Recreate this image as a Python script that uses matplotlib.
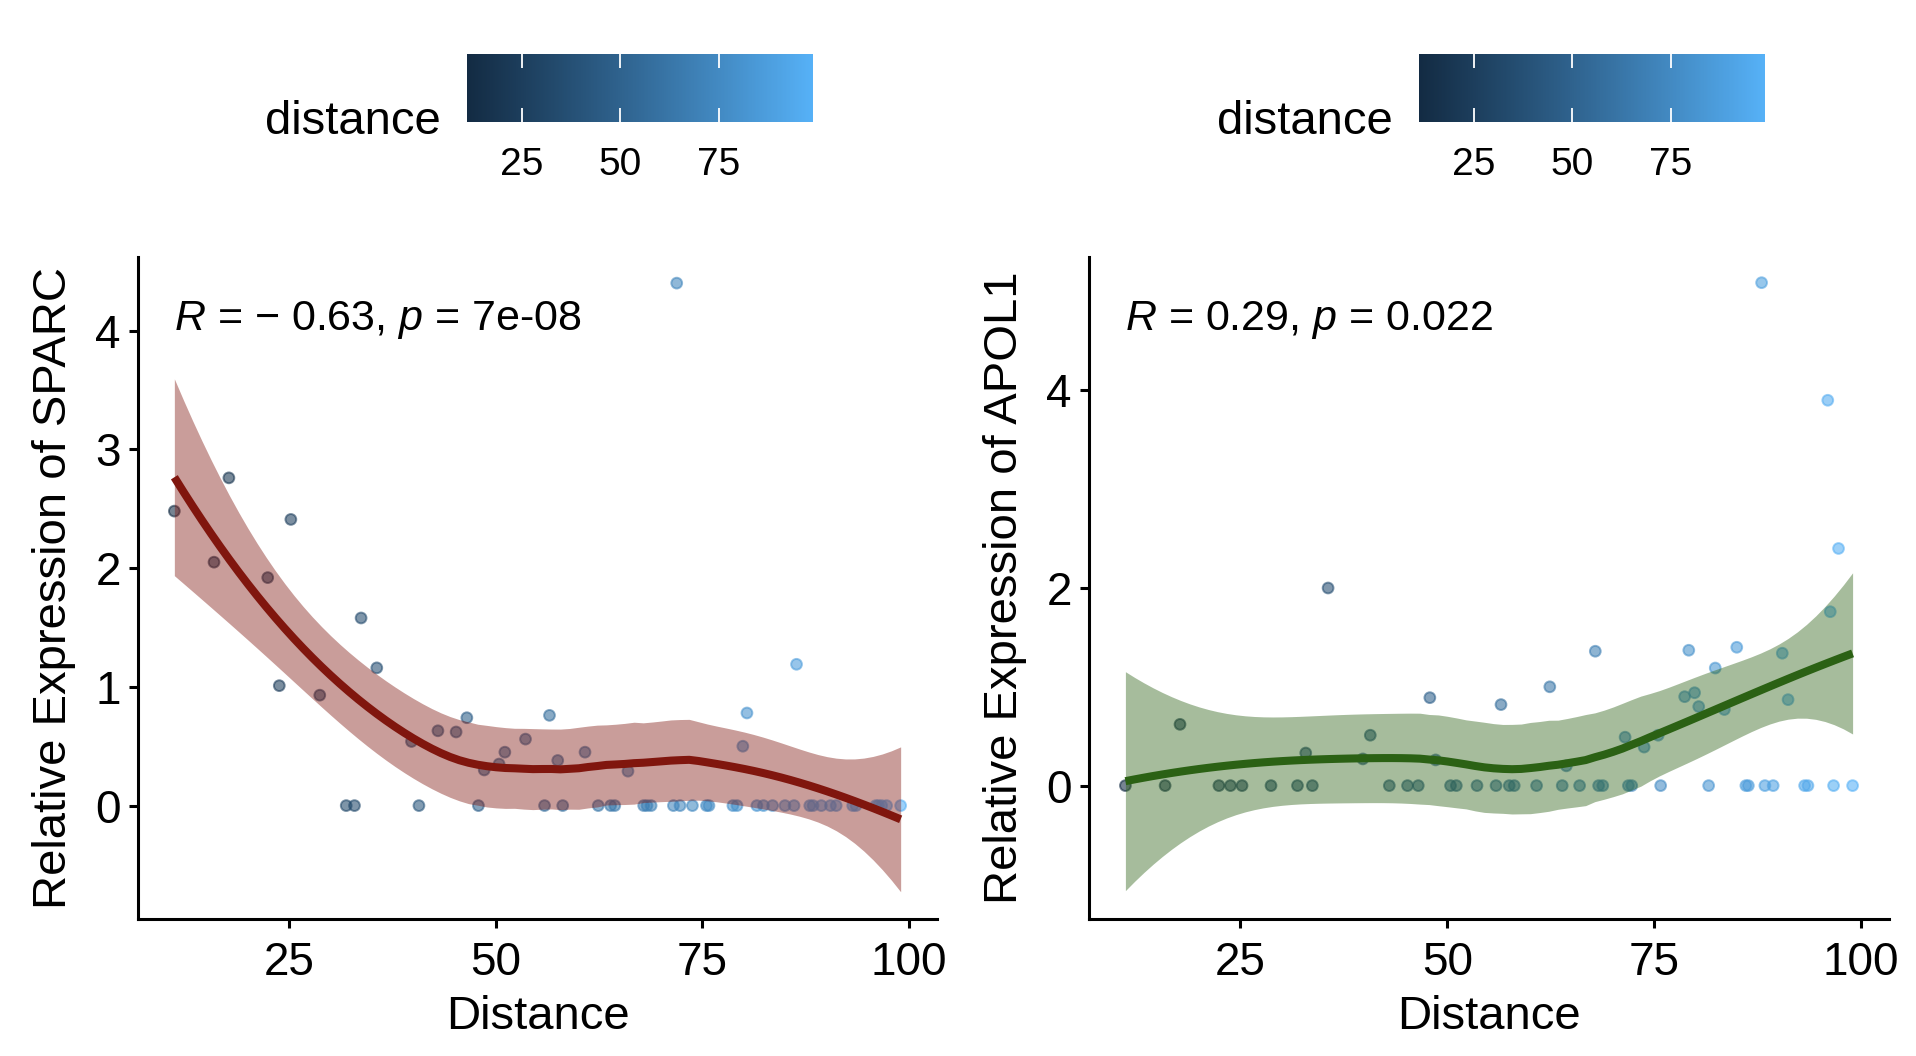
import numpy as np
import matplotlib
matplotlib.use("Agg")
import matplotlib.pyplot as plt
from matplotlib.colors import ListedColormap, Normalize
from matplotlib.cm import ScalarMappable
import matplotlib.transforms as mtransforms

plt.rcParams['font.family'] = ['Liberation Sans', 'DejaVu Sans']
plt.rcParams['mathtext.fontset'] = 'custom'
plt.rcParams['mathtext.rm'] = 'Liberation Sans'
plt.rcParams['mathtext.it'] = 'Liberation Sans:italic'

# ---------------- data ----------------
distance = [11.1, 15.9, 17.7, 22.4, 23.8, 25.2, 28.7, 31.9, 32.9, 33.7,
            35.6, 39.8, 40.7, 43.0, 45.2, 46.5, 47.9, 48.6, 50.4, 51.1,
            53.6, 55.9, 56.5, 57.5, 58.1, 60.8, 62.4, 63.9, 64.4, 66.0,
            67.9, 68.3, 68.8, 71.5, 71.9, 72.3, 73.8, 75.5, 75.8, 78.7,
            79.2, 79.9, 80.4, 81.6, 82.4, 83.5, 85.0, 86.1, 86.4, 88.0,
            88.4, 89.4, 90.5, 91.2, 93.2, 93.6, 96.0, 96.3, 96.7, 97.3,
            99.0]
sparc = [2.48, 2.05, 2.76, 1.92, 1.01, 2.41, 0.93, 0.00, 0.00, 1.58,
         1.16, 0.54, 0.00, 0.63, 0.62, 0.74, 0.00, 0.30, 0.35, 0.45,
         0.56, 0.00, 0.76, 0.38, 0.00, 0.45, 0.00, 0.00, 0.00, 0.29,
         0.00, 0.00, 0.00, 0.00, 4.40, 0.00, 0.00, 0.00, 0.00, 0.00,
         0.00, 0.50, 0.78, 0.00, 0.00, 0.00, 0.00, 0.00, 1.19, 0.00,
         0.00, 0.00, 0.00, 0.00, 0.00, 0.00, 0.00, 0.00, 0.00, 0.00,
         0.00]
apol1 = [0.00, 0.00, 0.62, 0.00, 0.00, 0.00, 0.00, 0.00, 0.33, 0.00,
         2.00, 0.27, 0.51, 0.00, 0.00, 0.00, 0.89, 0.26, 0.00, 0.00,
         0.00, 0.00, 0.82, 0.00, 0.00, 0.00, 1.00, 0.00, 0.20, 0.00,
         1.36, 0.00, 0.00, 0.49, 0.00, 0.00, 0.39, 0.51, 0.00, 0.90,
         1.37, 0.94, 0.80, 0.00, 1.19, 0.77, 1.40, 0.00, 0.00, 5.09,
         0.00, 0.00, 1.34, 0.87, 0.00, 0.00, 3.90, 1.76, 0.00, 2.40,
         0.00]
labels_cor = [r"$R$ = − 0.63, $p$ = 7e-08", r"$R$ = 0.29, $p$ = 0.022"]
ylabels = ["Relative Expression of SPARC", "Relative Expression of APOL1"]
xticks = [25, 50, 75, 100]
yticks_list = [[0, 1, 2, 3, 4], [0, 2, 4]]
legend_ticks = [25, 50, 75]

# ---------------- helpers ----------------
def srgb_to_lab(rgb):
    c = np.asarray(rgb, float) / 255.0
    c = np.where(c <= 0.04045, c / 12.92, ((c + 0.055) / 1.055) ** 2.4)
    M = np.array([[0.4124564, 0.3575761, 0.1804375],
                  [0.2126729, 0.7151522, 0.0721750],
                  [0.0193339, 0.1191920, 0.9503041]])
    xyz = M @ c
    wp = np.array([0.95047, 1.0, 1.08883])
    t = xyz / wp
    f = np.where(t > (6 / 29) ** 3, np.cbrt(t), t / (3 * (6 / 29) ** 2) + 4 / 29)
    return np.array([116 * f[1] - 16, 500 * (f[0] - f[1]), 200 * (f[1] - f[2])])

def lab_to_srgb(lab):
    L, a, b = lab
    fy_ = (L + 16) / 116
    fx_ = fy_ + a / 500
    fz_ = fy_ - b / 200
    f = np.array([fx_, fy_, fz_])
    t = np.where(f > 6 / 29, f ** 3, 3 * (6 / 29) ** 2 * (f - 4 / 29))
    xyz = t * np.array([0.95047, 1.0, 1.08883])
    Minv = np.array([[3.2404542, -1.5371385, -0.4985314],
                     [-0.9692660, 1.8760108, 0.0415560],
                     [0.0556434, -0.2040259, 1.0572252]])
    c = Minv @ xyz
    c = np.clip(c, 0, 1)
    c = np.where(c <= 0.0031308, 12.92 * c, 1.055 * c ** (1 / 2.4) - 0.055)
    return np.clip(c, 0, 1)

lab_lo = srgb_to_lab([0x13, 0x2B, 0x43])
lab_hi = srgb_to_lab([0x56, 0xB1, 0xF7])
cmap = ListedColormap([lab_to_srgb(lab_lo + (lab_hi - lab_lo) * t)
                       for t in np.linspace(0, 1, 256)])

def loess_rows(x, x0s, span=0.75):
    n = len(x)
    q = int(np.floor(n * span))
    rows = []
    for x0 in x0s:
        d = np.abs(x - x0)
        h = np.sort(d)[q - 1] * 1.0000001
        u = d / h
        w = np.where(u < 1, (1 - u ** 3) ** 3, 0.0)
        X = np.column_stack([np.ones(n), x - x0, (x - x0) ** 2])
        A = X.T @ (w[:, None] * X)
        rows.append(np.linalg.solve(A, (X * w[:, None]).T)[0])
    return np.array(rows)

def t975(df):
    z = 1.959964
    g1 = (z ** 3 + z) / 4
    g2 = (5 * z ** 5 + 16 * z ** 3 + 3 * z) / 96
    g3 = (3 * z ** 7 + 19 * z ** 5 + 17 * z ** 3 - 15 * z) / 384
    return z + g1 / df + g2 / df ** 2 + g3 / df ** 3

def loess_smooth(x, y, ngrid=80):
    x = np.asarray(x, float); y = np.asarray(y, float)
    n = len(x)
    L = loess_rows(x, x)
    res = y - L @ y
    IL = np.eye(n) - L
    M = IL.T @ IL
    d1 = np.trace(M); d2 = np.trace(M @ M)
    s = np.sqrt(np.sum(res ** 2) / d1)
    grid = np.linspace(x.min(), x.max(), ngrid)
    Lg = loess_rows(x, grid)
    pred = Lg @ y
    se = s * np.sqrt((Lg ** 2).sum(axis=1))
    tq = t975(d1 ** 2 / d2)
    return grid, pred, pred - tq * se, pred + tq * se

# ---------------- figure ----------------
W, H = 1916, 1056
fig = plt.figure(figsize=(W / 100, H / 100), dpi=100)

def fx(px): return px / W
def fy(py): return 1 - py / H

ax_left = [138, 1089]
ax_right = [937, 1889]
ax_top, ax_bot = 257, 919
ylims = [(-0.955, 4.62), (-1.35, 5.35)]
line_cols = ["#80160E", "#2B6114"]
cbar_left = [467, 1419]
cbar_w = 346
cbar_top, cbar_bot = 54, 122

norm = Normalize(vmin=min(distance), vmax=max(distance))
series = [sparc, apol1]

for i in range(2):
    ax = fig.add_axes([fx(ax_left[i]), fy(ax_bot), fx(ax_right[i] - ax_left[i]),
                       (ax_bot - ax_top) / H])
    ax.scatter(distance, series[i], c=distance, cmap=cmap, norm=norm,
               s=60, alpha=0.58, linewidths=1.4, edgecolors='face', zorder=2)
    g, p, lo, hi = loess_smooth(distance, series[i])
    ax.fill_between(g, lo, hi, color=line_cols[i], alpha=0.42, linewidth=0, zorder=3)
    ax.plot(g, p, color=line_cols[i], lw=5.8, zorder=4, solid_capstyle='butt')

    ax.set_xlim(6.7, 103.4)
    ax.set_ylim(*ylims[i])
    ax.set_xticks(xticks)
    ax.set_yticks(yticks_list[i])
    for sp in ['top', 'right']:
        ax.spines[sp].set_visible(False)
    for sp in ['left', 'bottom']:
        ax.spines[sp].set_linewidth(2.2)
        ax.spines[sp].set_color('black')
    ax.tick_params(axis='both', direction='out', length=6.5, width=2.2,
                   labelsize=33, colors='black', pad=6)
    ax.tick_params(axis='x', pad=9)
    ax.set_xlabel("Distance", fontsize=34)
    ax.xaxis.set_label_coords(0.5, -0.148)
    ax.xaxis.label.set_va('center')
    ax.set_ylabel(ylabels[i], fontsize=34)
    ax.yaxis.set_label_coords(-0.105, 0.5)
    ax.yaxis.label.set_va('center')

    trans = mtransforms.blended_transform_factory(ax.transData, ax.transAxes)
    ax.text(min(distance), 0.905, labels_cor[i], transform=trans,
            fontsize=31, ha='left', va='center')

    # colorbar legend
    cax = fig.add_axes([fx(cbar_left[i]), fy(cbar_bot), fx(cbar_w),
                        (cbar_bot - cbar_top) / H])
    sm = ScalarMappable(norm=norm, cmap=cmap)
    cb = fig.colorbar(sm, cax=cax, orientation='horizontal')
    cb.outline.set_visible(False)
    cb.set_ticks(legend_ticks)
    cax.tick_params(axis='x', direction='in', length=9.8, width=1.3,
                    color='white', top=True, bottom=True, labelsize=28,
                    labelcolor='black', pad=18)
    fig.text(fx(cbar_left[i] - 26), fy(134), "distance", fontsize=34,
             ha='right', va='baseline')

fig.savefig("out.png", dpi=100)
